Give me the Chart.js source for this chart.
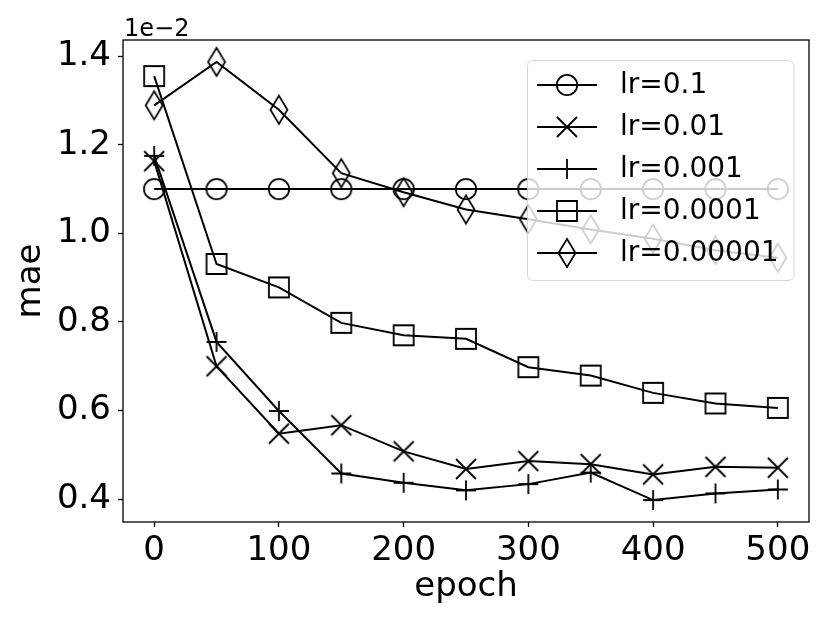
<!DOCTYPE html>
<html><head><meta charset="utf-8">
<script src="https://cdn.jsdelivr.net/npm/chart.js@4.4.1/dist/chart.umd.min.js"></script>
<style>html,body{margin:0;padding:0;background:#fff;} canvas{display:block;}</style>
</head><body>
<canvas id="c" width="830" height="623" style="width:830px;height:623px"></canvas>
<script>
const epochs = [0, 50, 100, 150, 200, 250, 300, 350, 400, 450, 500];
const lr1e1 = [1.100, 1.100, 1.100, 1.100, 1.100, 1.100, 1.100, 1.100, 1.100, 1.100, 1.100];
const lr1e2 = [1.163, 0.700, 0.548, 0.567, 0.508, 0.468, 0.486, 0.479, 0.456, 0.473, 0.471];
const lr1e3 = [1.175, 0.755, 0.599, 0.458, 0.437, 0.420, 0.434, 0.460, 0.398, 0.413, 0.422];
const lr1e4 = [1.355, 0.931, 0.878, 0.798, 0.770, 0.762, 0.698, 0.679, 0.640, 0.616, 0.606];
const lr1e5 = [1.289, 1.387, 1.279, 1.136, 1.093, 1.054, 1.032, 1.009, 0.988, 0.962, 0.945];
const seriesLabels = ['lr=0.1', 'lr=0.01', 'lr=0.001', 'lr=0.0001', 'lr=0.00001'];
const markerKinds = ['circle', 'x', 'plus', 'square', 'thinDiamond'];
const xTickValues = [0, 100, 200, 300, 400, 500];
const yTickValues = [0.4, 0.6, 0.8, 1.0, 1.2, 1.4];
const xTitle = 'epoch';
const yTitle = 'mae';
const yExponentLabel = '1e\u22122';

const FONT = '"DejaVu Sans", "Liberation Sans", sans-serif';

function makeMarker(kind) {
  const s = 36, c = document.createElement('canvas');
  c.width = s; c.height = s;
  const g = c.getContext('2d');
  g.strokeStyle = '#000'; g.lineWidth = 1.8; g.lineJoin = 'miter';
  const m = s / 2;
  g.beginPath();
  switch (kind) {
    case 'circle': g.arc(m, m, 10.2, 0, Math.PI * 2); break;
    case 'x': g.moveTo(m - 10, m - 10); g.lineTo(m + 10, m + 10); g.moveTo(m + 10, m - 10); g.lineTo(m - 10, m + 10); break;
    case 'plus': g.moveTo(m - 10, m); g.lineTo(m + 10, m); g.moveTo(m, m - 10); g.lineTo(m, m + 10); break;
    case 'square': g.rect(m - 10, m - 10, 20, 20); break;
    case 'thinDiamond': g.moveTo(m, m - 14.1); g.lineTo(m + 8.5, m); g.lineTo(m, m + 14.1); g.lineTo(m - 8.5, m); g.closePath(); break;
  }
  g.stroke();
  return c;
}
const markers = markerKinds.map(makeMarker);
const allSeries = [lr1e1, lr1e2, lr1e3, lr1e4, lr1e5];

const datasets = allSeries.map((vals, i) => ({
  label: seriesLabels[i],
  data: epochs.map((e, j) => ({ x: e, y: vals[j] })),
  borderColor: '#000',
  borderWidth: 2,
  backgroundColor: 'transparent',
  pointStyle: markers[i],
  pointRadius: 10,
  pointHoverRadius: 10,
  tension: 0,
  fill: false,
  clip: false
}));

const framePlugin = {
  id: 'frame',
  afterDatasetsDraw(chart) {
    const { ctx, chartArea: a } = chart;
    ctx.save();
    ctx.strokeStyle = '#000';
    ctx.lineWidth = 1.3;
    ctx.strokeRect(a.left, a.top, a.right - a.left, a.bottom - a.top);
    ctx.restore();
  }
};

const legendPlugin = {
  id: 'mplLegend',
  afterDraw(chart) {
    const { ctx, chartArea: a } = chart;
    ctx.save();
    ctx.fillStyle = '#000';
    ctx.font = '24px ' + FONT;
    ctx.textAlign = 'left';
    ctx.textBaseline = 'alphabetic';
    ctx.fillText(yExponentLabel, a.left + 1, a.top - 4);
    const bx = 527.5, by = 60.5, bw = 266.5, bh = 220, r = 6;
    ctx.beginPath();
    ctx.moveTo(bx + r, by);
    ctx.lineTo(bx + bw - r, by);
    ctx.quadraticCurveTo(bx + bw, by, bx + bw, by + r);
    ctx.lineTo(bx + bw, by + bh - r);
    ctx.quadraticCurveTo(bx + bw, by + bh, bx + bw - r, by + bh);
    ctx.lineTo(bx + r, by + bh);
    ctx.quadraticCurveTo(bx, by + bh, bx, by + bh - r);
    ctx.lineTo(bx, by + r);
    ctx.quadraticCurveTo(bx, by, bx + r, by);
    ctx.closePath();
    ctx.fillStyle = 'rgba(255,255,255,0.8)';
    ctx.fill();
    ctx.strokeStyle = 'rgba(204,204,204,0.8)';
    ctx.lineWidth = 1;
    ctx.stroke();
    ctx.font = '28px ' + FONT;
    ctx.textBaseline = 'middle';
    ctx.fillStyle = '#000';
    seriesLabels.forEach((lab, i) => {
      const y = 85 + 42 * i;
      ctx.beginPath();
      ctx.strokeStyle = '#000';
      ctx.lineWidth = 2;
      ctx.moveTo(537, y); ctx.lineTo(597, y);
      ctx.stroke();
      ctx.drawImage(markers[i], 567 - 18, y - 18);
      ctx.fillText(lab, 620, y + 1);
    });
    ctx.restore();
  }
};

new Chart(document.getElementById('c'), {
  type: 'line',
  data: { datasets },
  options: {
    responsive: false,
    animation: false,
    events: [],
    layout: { padding: { top: 40, right: 21, left: 0, bottom: 0 } },
    plugins: { legend: { display: false }, tooltip: { enabled: false } },
    scales: {
      x: {
        type: 'linear',
        min: -25, max: 525,
        afterBuildTicks(s) { s.ticks = xTickValues.map(v => ({ value: v })); },
        afterFit(s) { s.height = 101; },
        grid: { drawOnChartArea: false, drawTicks: true, tickLength: 5, tickColor: '#000', tickWidth: 1.3 },
        border: { display: false },
        ticks: { color: '#000', font: { family: FONT, size: 34 }, padding: 4, maxRotation: 0, autoSkip: false, callback: v => String(v) },
        title: { display: true, text: xTitle, color: '#000', font: { family: FONT, size: 34 }, padding: { top: 0, bottom: 15 } }
      },
      y: {
        type: 'linear',
        min: 0.3485, max: 1.4365,
        afterBuildTicks(s) { s.ticks = yTickValues.map(v => ({ value: v })); },
        afterFit(s) { s.width = 123; },
        grid: { drawOnChartArea: false, drawTicks: true, tickLength: 5, tickColor: '#000', tickWidth: 1.3 },
        border: { display: false },
        ticks: { color: '#000', font: { family: FONT, size: 34 }, padding: 7, autoSkip: false, callback: v => Number(v).toFixed(1) },
        title: { display: true, text: yTitle, color: '#000', font: { family: FONT, size: 34 }, padding: { top: 11, bottom: 0 } }
      }
    }
  },
  plugins: [framePlugin, legendPlugin]
});
</script>
</body></html>
